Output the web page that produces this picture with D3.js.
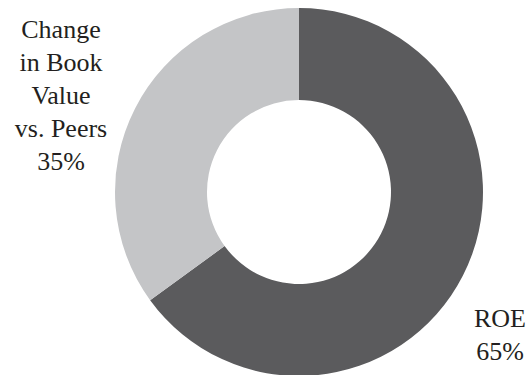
<!DOCTYPE html>
<html>
<head>
<meta charset="utf-8">
<script src="https://cdn.jsdelivr.net/npm/d3@7"></script>
</head>
<body style="margin:0">
<script>
const categories = ['ROE', 'Change in Book Value vs. Peers'];
const values = [65, 35];
const labelLines = [['ROE', '65%'], ['Change', 'in Book', 'Value', 'vs. Peers', '35%']];
const colors = ['#5b5b5d', '#c4c5c7'];

const width = 529, height = 375;
const cx = 299, cy = 192;
const outerR = 184, innerR = 92;

const svg = d3.select('body').append('svg')
  .attr('width', width).attr('height', height)
  .style('display', 'block');

const data = categories.map((c, i) => ({ name: c, value: values[i], lines: labelLines[i], color: colors[i] }));

const pie = d3.pie().value(d => d.value).sort(null);
const arc = d3.arc().innerRadius(innerR).outerRadius(outerR);

const g = svg.append('g').attr('transform', `translate(${cx},${cy})`);
g.selectAll('path').data(pie(data)).enter().append('path')
  .attr('d', arc)
  .attr('fill', d => d.data.color);

// label anchors (centre x, first baseline y)
const labelPos = [[500, 327], [61, 38]];
const lineH = 33;

data.forEach((d, i) => {
  d.lines.forEach((ln, j) => {
    svg.append('text')
      .attr('x', labelPos[i][0])
      .attr('y', labelPos[i][1] + j * lineH)
      .attr('text-anchor', 'middle')
      .attr('font-family', 'Liberation Serif')
      .style('font-size', '26px')
      .style('fill', '#231f20')
      .text(ln);
  });
});
</script>
</body>
</html>
